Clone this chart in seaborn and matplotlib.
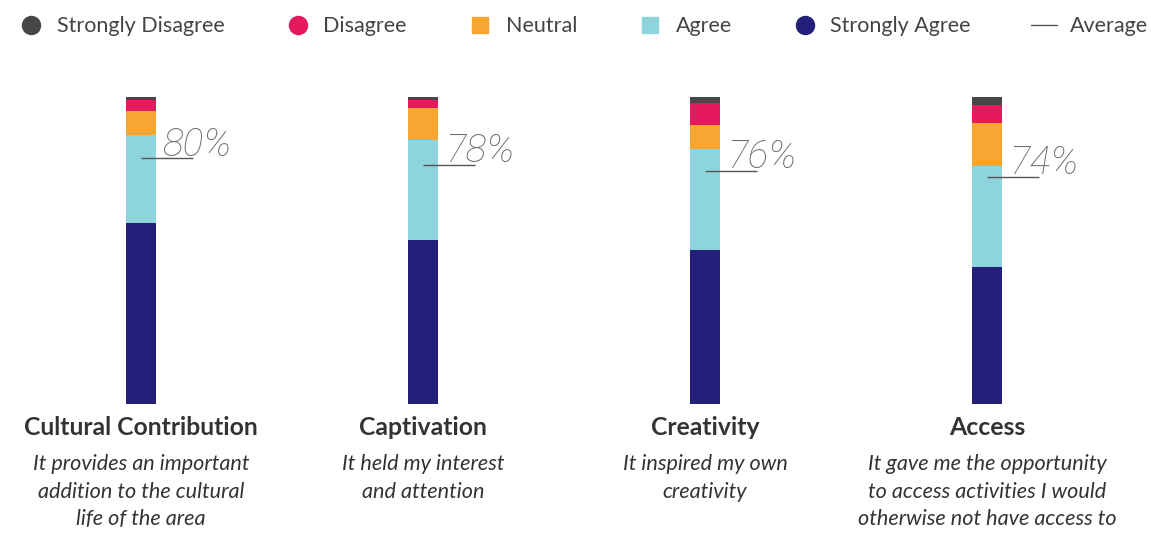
import seaborn as sns
import matplotlib.pyplot as plt
from matplotlib.lines import Line2D
import pandas as pd
import numpy as np

# Survey responses (% of respondents)
categories = ["Cultural Contribution", "Captivation", "Creativity", "Access"]
descriptions = [
    "It provides an important\naddition to the cultural\nlife of the area",
    "It held my interest\nand attention",
    "It inspired my own\ncreativity",
    "It gave me the opportunity\nto access activities I would\notherwise not have access to",
]
strongly_disagree = [1, 1, 2, 2.5]
disagree = [3.5, 2.5, 7, 6]
neutral = [8, 10.5, 8, 14]
agree = [28.5, 32.5, 33, 33]
strongly_agree = [59, 53.5, 50, 44.5]
averages = [80, 78, 76, 74]

levels = ["Strongly Disagree", "Disagree", "Neutral", "Agree", "Strongly Agree"]
colors = ["#474747", "#e5195e", "#f7a731", "#8ed4dd", "#241f78"]

df = pd.DataFrame({
    "Category": categories,
    "Strongly Disagree": strongly_disagree,
    "Disagree": disagree,
    "Neutral": neutral,
    "Agree": agree,
    "Strongly Agree": strongly_agree,
})

sns.set_style("white")
plt.rcParams["font.family"] = ["Lato", "DejaVu Sans"]

fig = plt.figure(figsize=(11.51, 5.35), dpi=100)
ax = fig.add_axes([0.0, 0.2449, 1128 / 1151, 0.5738])

# stacked bars: draw cumulative totals from the top level down
cum = df[levels[::-1]].cumsum(axis=1)  # SA, SA+A, ...
order = levels[::-1]
for lvl in reversed(order):
    sns.barplot(x=df["Category"], y=cum[lvl], color=colors[levels.index(lvl)],
                width=0.106, ax=ax, saturation=1, linewidth=0)

for i, avg in enumerate(averages):
    ax.hlines(avg, i, i + 0.185, color="#555555", lw=1.0, zorder=5)
    ax.text(i + 0.078, avg + 0.8, f"{avg}%", fontsize=28, fontstyle="italic",
            fontweight="light", family=["Roboto", "Lato"], color="#6e6e6e",
            ha="left", va="baseline")
    ax.text(i, -4.0, categories[i], fontsize=17.8, fontweight="bold",
            color="#333333", ha="center", va="top")
    ax.text(i, -16.3, descriptions[i], fontsize=15.6, fontstyle="italic",
            color="#333333", ha="center", va="top", linespacing=1.47)

ax.set_xlim(-0.5, 3.5)
ax.set_ylim(0, 100)
ax.set_xlabel("")
ax.set_ylabel("")
ax.set_xticks([])
ax.set_yticks([])
sns.despine(ax=ax, left=True, bottom=True)

handles = [
    Line2D([], [], marker="o", ls="", color=colors[0], markersize=13),
    Line2D([], [], marker="o", ls="", color=colors[1], markersize=13),
    Line2D([], [], marker="s", ls="", color=colors[2], markersize=11),
    Line2D([], [], marker="s", ls="", color=colors[3], markersize=11),
    Line2D([], [], marker="o", ls="", color=colors[4], markersize=13),
    Line2D([], [], color="#555555", lw=1.0),
]
fig.legend(handles, levels + ["Average"], loc="center", bbox_to_anchor=(0.5065, 0.951),
           ncol=6, frameon=False, fontsize=15.5, handlelength=1.2, handletextpad=0.6,
           columnspacing=2.78, labelcolor="#444444")

plt.savefig("out.png", dpi=100)
plt.close()
